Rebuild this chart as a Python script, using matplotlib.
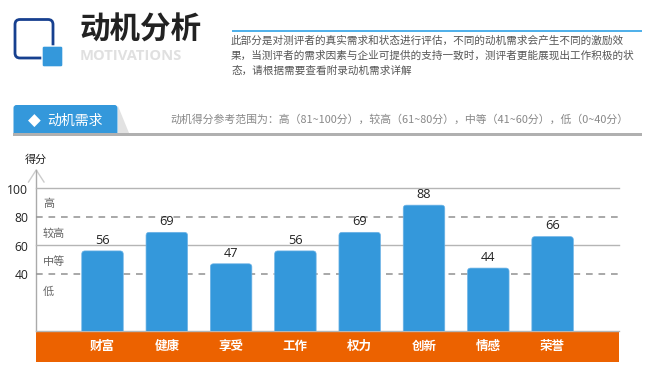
import matplotlib
matplotlib.use("Agg")
import matplotlib.pyplot as plt
from matplotlib.patches import FancyBboxPatch, Rectangle, Polygon
from matplotlib.transforms import ScaledTranslation

plt.rcParams['font.family'] = ['Noto Sans CJK SC', 'DejaVu Sans']

categories = ['财富', '健康', '享受', '工作', '权力', '创新', '情感', '荣誉']
scores = [56, 69, 47, 56, 69, 88, 44, 66]
y_ticks = [40, 60, 80, 100]
solid_levels = [60, 100]
dashed_levels = [40, 80]
level_labels = ['高', '较高', '中等', '低']
level_label_y = [204, 234, 262, 292]
title = '动机分析'
subtitle = 'MOTIVATIONS'
intro = ['此部分是对测评者的真实需求和状态进行评估，不同的动机需求会产生不同的激励效',
         '果，当测评者的需求因素与企业可提供的支持一致时，测评者更能展现出工作积极的状',
         '态，请根据需要查看附录动机需求详解']
tab_label = '动机需求'
range_note = '动机得分参考范围为：高（81~100分），较高（61~80分），中等（41~60分），低（0~40分）'
y_title = '得分'

W, H = 656, 375
BLUE = '#3498db'
fig = plt.figure(figsize=(W / 100, H / 100), dpi=100, facecolor='white')

# pixel-space overlay for page decoration
bg = fig.add_axes([0, 0, 1, 1], zorder=0)
bg.set_xlim(0, W); bg.set_ylim(H, 0); bg.axis('off')

# icon
bg.add_patch(FancyBboxPatch((15, 19.5), 38, 38.5, boxstyle='round,pad=0,rounding_size=5',
                            fc='white', ec='#17408f', lw=2.0))
bg.add_patch(FancyBboxPatch((42, 46), 21, 21, boxstyle='round,pad=0,rounding_size=2',
                            fc=BLUE, ec='white', lw=1))
bg.text(79.5, 29.5, title, fontsize=22, fontweight='bold', color='#222222', va='center', ha='left')
bg.text(80, 56, subtitle, fontsize=10.6, fontweight='bold', color='#e0e0e0', va='center', ha='left',
        family=['Open Sans', 'DejaVu Sans'])

# intro block
bg.plot([232, 642], [30.5, 30.5], color='#3fa9e8', lw=1.3, solid_capstyle='butt')
for yy, line in zip([41, 56, 70.5], intro):
    bg.text(231, yy, line, fontsize=7.63, color='#555555', va='center', ha='left')

# section tab
bg.add_patch(Polygon([(118, 106), (129, 133), (118, 133)], fc='#e2e2e2', ec='none'))
bg.add_patch(FancyBboxPatch((13.5, 105), 104, 34, boxstyle='round,pad=0,rounding_size=3',
                            fc=BLUE, ec='none'))
bg.add_patch(Rectangle((13, 133), 629, 2.5, fc='#b0b0b0', ec='none'))
bg.add_patch(Rectangle((10, 135.5), 125, 8, fc='white', ec='none'))
bg.text(34.5, 121, '◆', fontsize=12, color='white', va='center', ha='center',
        family=['DejaVu Sans'])
bg.text(75.5, 121, tab_label, fontsize=10, color='white', va='center', ha='center')
bg.text(170, 119.5, range_note, fontsize=7.83, color='#888888', va='center', ha='left')

# y axis arrow and orange band
bg.plot([28.5, 36.2, 44], [182, 170, 182], color='#cccccc', lw=1)
bg.plot([36.2, 36.2], [170, 331], color='#aaaaaa', lw=1)
bg.add_patch(Rectangle((36, 331), 583, 31, fc='#ec6200', ec='none'))
bg.text(36, 159.5, y_title, fontsize=8, color='#222222', va='center', ha='center')
for yy, lab in zip(level_label_y, level_labels):
    bg.text(43, yy, lab, fontsize=8, color='#666666', va='center', ha='left')

# chart axes
left, right, top, bottom = 36, 619, 188, 331
ax = fig.add_axes([left / W, 1 - bottom / H, (right - left) / W, (bottom - top) / H], zorder=1)
ax.patch.set_alpha(0)
step = 64.3
ax.set_xlim((36 - 102.5) / step, (619 - 102.5) / step)
ax.set_ylim(0, 100)
for s in ax.spines.values():
    s.set_visible(False)

for v in solid_levels:
    ax.axhline(v, color='#b5b5b5', lw=1, zorder=1, clip_on=False)
for v in dashed_levels:
    ax.axhline(v, color='#999999', lw=1.2, ls=(0, (4, 3.5)), zorder=1)
ax.axhline(0, color='#b5b5b5', lw=1, zorder=1, clip_on=False)

bar_w = 41.5 / step
aspect = step / ((bottom - top) / 100)
for i, (c, v) in enumerate(zip(categories, scores)):
    ax.add_patch(FancyBboxPatch((i - bar_w / 2, -6), bar_w, v + 6,
                                boxstyle='round,pad=0,rounding_size=0.05',
                                mutation_aspect=aspect, fc=BLUE, ec='#6db3e6', lw=0.5, zorder=2))
    ax.annotate(str(v), (i, v), xytext=(0, 3), textcoords='offset points', ha='center', va='bottom',
                fontsize=9.2, color='#222222', family=['Open Sans', 'DejaVu Sans'], zorder=3)

ax.set_yticks(y_ticks)
ax.set_yticklabels([str(t) for t in y_ticks], fontsize=8.7, color='#222222',
                   family=['Open Sans', 'DejaVu Sans'], va='center')
ax.tick_params(axis='y', length=0, pad=5.5)
shift = ScaledTranslation(0, -2 / 100, fig.dpi_scale_trans)
for lab in ax.get_yticklabels():
    lab.set_transform(lab.get_transform() + shift)
ax.set_xticks(range(len(categories)))
ax.set_xticklabels(categories, fontsize=9, color='white', fontweight='bold')
ax.tick_params(axis='x', length=0, pad=6.5)

fig.savefig('out.png', dpi=100)
